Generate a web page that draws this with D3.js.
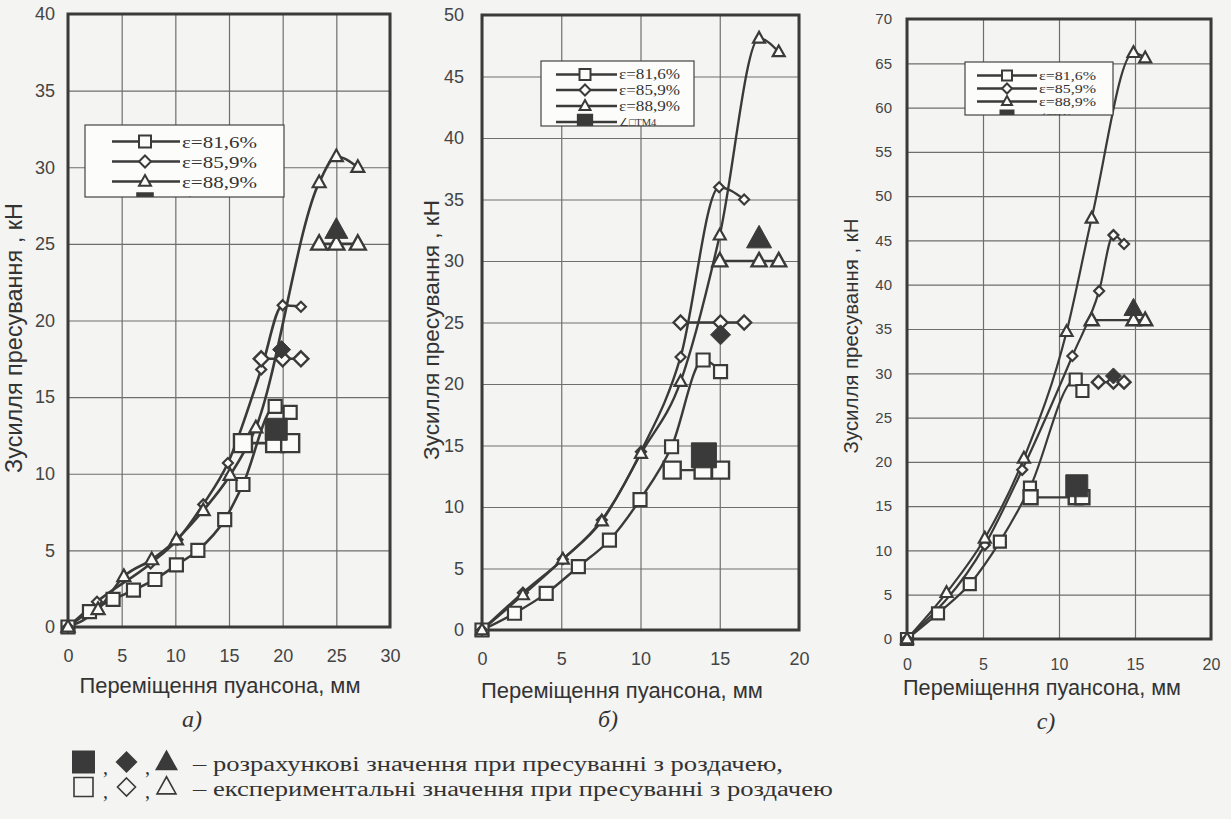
<!DOCTYPE html>
<html>
<head>
<meta charset="utf-8">
<script src="https://cdn.jsdelivr.net/npm/d3@7/dist/d3.min.js"></script>
<style>
  body { margin: 0; background: #f4f4f2; }
  svg { display: block; }
</style>
</head>
<body>
<svg id="chart" width="1231" height="819"></svg>
<script>
// ---- tick labels ----
const aXTicks = [0, 5, 10, 15, 20, 25, 30];
const aYTicks = [0, 5, 10, 15, 20, 25, 30, 35, 40];
const bXTicks = [0, 5, 10, 15, 20];
const bYTicks = [0, 5, 10, 15, 20, 25, 30, 35, 40, 45, 50];
const cXTicks = [0, 5, 10, 15, 20];
const cYTicks = [0, 5, 10, 15, 20, 25, 30, 35, 40, 45, 50, 55, 60, 65, 70];

const seriesNames = ["ε=81,6%", "ε=85,9%", "ε=88,9%", "∠□TM4"];

// ---- panel a) ----
const aSq = [[0,0],[2.0,1.0],[4.2,1.8],[6.1,2.4],[8.1,3.1],[10.1,4.05],[12.1,5.0],[14.6,7.0],[16.3,9.3],[19.3,14.4],[20.7,14.0]];
const aSqExpX = [16.3, 19.3, 20.7], aSqExpY = 12;
const aSqCalc = [19.4, 12.9];
const aDi = [[0,0],[2.7,1.65],[7.7,4.15],[10.2,5.7],[12.6,8.0],[14.9,10.7],[18.0,16.8],[20.0,21.0],[21.7,20.9]];
const aDiExpX = [18.0, 20.0, 21.7], aDiExpY = 17.5;
const aDiCalc = [19.9, 18.1];
const aTr = [[0,0],[2.8,1.15],[5.2,3.3],[7.8,4.4],[10.1,5.7],[12.6,7.6],[15.1,9.9],[17.5,13.0],[23.4,29.0],[25.0,30.7],[27.0,30.0]];
const aTrExpX = [23.4, 25.0, 27.0], aTrExpY = 25;
const aTrCalc = [25.0, 25.9];

// ---- panel б) ----
const bSq = [[0,0],[2.05,1.36],[4.05,2.98],[6.08,5.15],[8.04,7.3],[9.97,10.6],[11.96,14.9],[13.95,21.95],[15.05,21.0]];
const bSqExpX = [12.0, 13.95, 15.05], bSqExpY = 13;
const bSqCalc = [14.0, 14.2];
const bDi = [[0,0],[2.58,3.03],[5.1,5.75],[7.56,8.94],[10.03,14.5],[12.53,22.2],[14.96,36.0],[16.54,35.0]];
const bDiExpX = [12.53, 15.05, 16.54], bDiExpY = 25;
const bDiCalc = [15.05, 24.0];
const bTr = [[0,0],[2.58,2.85],[5.1,5.75],[7.56,8.85],[10.03,14.35],[12.53,20.2],[15.0,32.1],[17.48,48.1],[18.72,47.0]];
const bTrExpX = [15.0, 17.48, 18.72], bTrExpY = 30;
const bTrCalc = [17.48, 31.8];

// ---- panel с) ----
const cSq = [[0,0],[2.04,2.9],[4.13,6.2],[6.11,11.0],[8.09,17.1],[11.1,29.3],[11.54,28.0]];
const cSqExpX = [8.13, 11.1, 11.54], cSqExpY = 16;
const cSqCalc = [11.17, 17.3];
const cDi = [[0,0],[5.12,10.6],[7.58,19.1],[10.88,31.95],[12.64,39.3],[13.58,45.6],[14.28,44.6]];
const cDiExpX = [12.59, 13.58, 14.28], cDiExpY = 29;
const cDiCalc = [13.58, 29.7];
const cTr = [[0,0],[2.6,5.23],[5.12,11.37],[7.69,20.4],[10.5,34.7],[12.15,47.5],[14.9,66.2],[15.67,65.6]];
const cTrExpX = [12.15, 14.9, 15.67], cTrExpY = 36;
const cTrCalc = [14.9, 37.3];

const INK = "#3a3a3a";
const BG = "#f4f4f2";
const SANS = "'Liberation Sans', Arial, sans-serif";
const SERIF = "'Liberation Serif', 'Times New Roman', serif";

const svg = d3.select("#chart");
svg.append("rect").attr("width", 1231).attr("height", 819).attr("fill", BG);

// marker shapes (s = full width)
function markerPath(type, s) {
  const h = s / 2;
  if (type === "sq") return `M${-h},${-h}H${h}V${h}H${-h}Z`;
  if (type === "di") return `M0,${-h}L${h},0L0,${h}L${-h},0Z`;
  const th = s * 0.9;
  return `M0,${-th * 0.6}L${h},${th * 0.4}L${-h},${th * 0.4}Z`;
}

// fit a text element to a target length by changing its font size
function fit(sel, w) {
  const fs = parseFloat(sel.attr("font-size"));
  const l = sel.node().getComputedTextLength();
  sel.attr("font-size", (fs * w / l).toFixed(2));
}

function drawPanel(cfg) {
  const x = d3.scaleLinear().domain([0, d3.max(cfg.xTicks)]).range([cfg.left, cfg.right]);
  const y = d3.scaleLinear().domain([0, d3.max(cfg.yTicks)]).range([cfg.bottom, cfg.top]);
  const g = svg.append("g");

  // grid
  g.append("g")
    .attr("transform", `translate(0,${cfg.bottom})`)
    .call(d3.axisBottom(x).tickValues(cfg.xTicks).tickSize(-(cfg.bottom - cfg.top)).tickFormat(""))
    .call(s => { s.select(".domain").remove(); s.selectAll("line").attr("stroke", "#6e6e6e").attr("stroke-width", 1.2); });
  g.append("g")
    .attr("transform", `translate(${cfg.left},0)`)
    .call(d3.axisLeft(y).tickValues(cfg.yTicks).tickSize(-(cfg.right - cfg.left)).tickFormat(""))
    .call(s => { s.select(".domain").remove(); s.selectAll("line").attr("stroke", "#6e6e6e").attr("stroke-width", 1.2); });

  // frame
  g.append("rect")
    .attr("x", cfg.left).attr("y", cfg.top)
    .attr("width", cfg.right - cfg.left).attr("height", cfg.bottom - cfg.top)
    .attr("fill", "none").attr("stroke", INK).attr("stroke-width", 3);

  // tick labels
  g.append("g")
    .attr("transform", `translate(0,${cfg.bottom})`)
    .call(d3.axisBottom(x).tickValues(cfg.xTicks).tickSize(0).tickPadding(cfg.xPad))
    .call(s => {
      s.select(".domain").remove();
      s.selectAll("text").attr("font-family", SANS).attr("font-size", cfg.xFont).attr("fill", "#444");
    });
  g.append("g")
    .attr("transform", `translate(${cfg.left},0)`)
    .call(d3.axisLeft(y).tickValues(cfg.yTicks).tickSize(0).tickPadding(cfg.yPad))
    .call(s => {
      s.select(".domain").remove();
      s.selectAll("text").attr("font-family", SANS).attr("font-size", cfg.yFont).attr("fill", "#444");
    });

  // axis titles
  const xt = g.append("text")
    .attr("x", cfg.xTitle[0]).attr("y", cfg.xTitle[1])
    .attr("text-anchor", "middle").attr("font-family", SANS).attr("font-size", 20).attr("fill", "#333")
    .text("Переміщення пуансона, мм");
  fit(xt, cfg.xTitle[2]);
  const yt = g.append("text")
    .attr("transform", `translate(${cfg.yTitle[0]},${cfg.yTitle[1]}) rotate(-90)`)
    .attr("text-anchor", "middle").attr("dominant-baseline", "central")
    .attr("font-family", SANS).attr("font-size", 18).attr("fill", "#333")
    .text("Зусилля пресування , кН");
  fit(yt, cfg.yTitle[2]);

  // caption
  g.append("text")
    .attr("x", cfg.caption[0]).attr("y", cfg.caption[1])
    .attr("text-anchor", "middle").attr("font-family", SERIF).attr("font-style", "italic")
    .attr("font-size", 24).attr("fill", "#333")
    .text(cfg.caption[2]);

  const curve = d3.line().x(d => x(d[0])).y(d => y(d[1])).curve(d3.curveMonotoneX);
  const straight = d3.line().x(d => x(d[0])).y(d => y(d[1]));
  const types = ["sq", "di", "tr"];

  // lines
  cfg.series.forEach(s => {
    g.append("path").attr("d", curve(s.main))
      .attr("fill", "none").attr("stroke", INK).attr("stroke-width", cfg.lw);
    g.append("path").attr("d", straight(s.expX.map(v => [v, s.expY])))
      .attr("fill", "none").attr("stroke", INK).attr("stroke-width", cfg.lw);
  });
  // open markers
  cfg.series.forEach((s, i) => {
    g.selectAll(null).data(s.main).enter().append("path")
      .attr("d", markerPath(types[i], cfg.mSize[i]))
      .attr("transform", d => `translate(${x(d[0])},${y(d[1])})`)
      .attr("fill", "#fbfbfa").attr("stroke", INK).attr("stroke-width", 2.2);
    g.selectAll(null).data(s.expX).enter().append("path")
      .attr("d", markerPath(types[i], cfg.eSize[i]))
      .attr("transform", d => `translate(${x(d)},${y(s.expY)})`)
      .attr("fill", "#fbfbfa").attr("stroke", INK).attr("stroke-width", 2.4);
  });
  // calculated (filled) markers
  cfg.series.forEach((s, i) => {
    g.append("path")
      .attr("d", markerPath(types[i], cfg.cSize[i]))
      .attr("transform", `translate(${x(s.calc[0])},${y(s.calc[1])})`)
      .attr("fill", INK).attr("stroke", INK).attr("stroke-width", 1);
  });

  // legend box
  const L = cfg.legend;
  const clipId = "clip-" + cfg.caption[2].charCodeAt(0);
  svg.append("clipPath").attr("id", clipId).append("rect")
    .attr("x", L.x0).attr("y", L.y0).attr("width", L.x1 - L.x0).attr("height", L.y1 - L.y0);
  g.append("rect")
    .attr("x", L.x0).attr("y", L.y0).attr("width", L.x1 - L.x0).attr("height", L.y1 - L.y0)
    .attr("fill", "#fcfcfb");
  const lg = g.append("g").attr("clip-path", `url(#${clipId})`);
  seriesNames.forEach((name, i) => {
    const ry = L.rows[i];
    lg.append("line").attr("x1", L.lx0).attr("x2", L.lx1).attr("y1", ry).attr("y2", ry)
      .attr("stroke", INK).attr("stroke-width", 2.6);
    const mt = i < 3 ? types[i] : "sq";
    lg.append("path").attr("d", markerPath(mt, i < 3 ? L.ms : L.ms * 1.3))
      .attr("transform", `translate(${L.mx},${ry})`)
      .attr("fill", i < 3 ? "#fbfbfa" : INK).attr("stroke", INK).attr("stroke-width", 2);
    const t = lg.append("text").attr("x", L.tx).attr("y", ry).attr("dy", "0.35em")
      .attr("font-family", SERIF).attr("font-size", i < 3 ? L.fs : L.fs * 0.75)
      .attr("fill", "#333").text(name);
    if (i < 3) t.attr("textLength", L.tw).attr("lengthAdjust", "spacingAndGlyphs");
  });
  g.append("rect")
    .attr("x", L.x0).attr("y", L.y0).attr("width", L.x1 - L.x0).attr("height", L.y1 - L.y0)
    .attr("fill", "none").attr("stroke", "#444").attr("stroke-width", 1.2);
}

drawPanel({
  left: 68, right: 390, top: 14, bottom: 627,
  xTicks: aXTicks, yTicks: aYTicks, xPad: 22, yPad: 13, xFont: 18, yFont: 18,
  xTitle: [220, 693, 281], yTitle: [14, 338, 270], caption: [192, 727, "а)"],
  lw: 2.6, mSize: [13, 10, 13], eSize: [18, 15, 16], cSize: [22, 18, 23],
  series: [
    { main: aSq, expX: aSqExpX, expY: aSqExpY, calc: aSqCalc },
    { main: aDi, expX: aDiExpX, expY: aDiExpY, calc: aDiCalc },
    { main: aTr, expX: aTrExpX, expY: aTrExpY, calc: aTrCalc }
  ],
  legend: { x0: 85, y0: 125, x1: 284, y1: 197, lx0: 112, lx1: 180, mx: 145, tx: 182,
            rows: [141.5, 161.5, 181.5, 201], ms: 12, fs: 17.5, tw: 75 }
});

drawPanel({
  left: 482, right: 799, top: 15, bottom: 630,
  xTicks: bXTicks, yTicks: bYTicks, xPad: 22, yPad: 18, xFont: 18, yFont: 18,
  xTitle: [622, 698, 282], yTitle: [431, 330, 260], caption: [608, 727, "б)"],
  lw: 2.4, mSize: [13, 10, 12], eSize: [17, 14, 15], cSize: [25, 20, 25],
  series: [
    { main: bSq, expX: bSqExpX, expY: bSqExpY, calc: bSqCalc },
    { main: bDi, expX: bDiExpX, expY: bDiExpY, calc: bDiCalc },
    { main: bTr, expX: bTrExpX, expY: bTrExpY, calc: bTrCalc }
  ],
  legend: { x0: 541, y0: 61, x1: 694, y1: 126, lx0: 556, lx1: 617, mx: 585, tx: 619,
            rows: [74.5, 90, 106, 122], ms: 11, fs: 14, tw: 61 }
});

drawPanel({
  left: 907, right: 1211, top: 19, bottom: 639,
  xTicks: cXTicks, yTicks: cYTicks, xPad: 20, yPad: 15, xFont: 16, yFont: 15,
  xTitle: [1042, 695, 278], yTitle: [851, 336, 235], caption: [1046, 729, "с)"],
  lw: 2.2, mSize: [12, 10, 12], eSize: [14, 13, 14], cSize: [22, 16, 19],
  series: [
    { main: cSq, expX: cSqExpX, expY: cSqExpY, calc: cSqCalc },
    { main: cDi, expX: cDiExpX, expY: cDiExpY, calc: cDiCalc },
    { main: cTr, expX: cTrExpX, expY: cTrExpY, calc: cTrCalc }
  ],
  legend: { x0: 965, y0: 62, x1: 1113, y1: 115, lx0: 977, lx1: 1037, mx: 1007, tx: 1039,
            rows: [75.5, 88.5, 101.5, 117], ms: 10, fs: 12, tw: 57 }
});

// ---- bottom key ----
const key = svg.append("g");
const keyTypes = ["sq", "di", "tr"];
const keyX = [83.5, 126.5, 166.5];
const keySize = [23, 22, 23];
keyTypes.forEach((t, i) => {
  key.append("path").attr("d", markerPath(t, keySize[i]))
    .attr("transform", `translate(${keyX[i]},762)`).attr("fill", INK);
  key.append("path").attr("d", markerPath(t, keySize[i] - 4))
    .attr("transform", `translate(${keyX[i]},787)`)
    .attr("fill", "none").attr("stroke", INK).attr("stroke-width", 1.6);
});
[103, 145].forEach(cx => {
  key.append("text").attr("x", cx).attr("y", 774).attr("font-family", SERIF).attr("font-size", 20).attr("fill", "#333").text(",");
  key.append("text").attr("x", cx).attr("y", 798).attr("font-family", SERIF).attr("font-size", 20).attr("fill", "#333").text(",");
});
const KEY_FS = 20.5;
const k1 = key.append("text").attr("x", 193).attr("y", 771)
  .attr("font-family", SERIF).attr("font-size", KEY_FS).attr("fill", "#333")
  .text("– розрахункові значення при пресуванні з роздачею,");
const k2 = key.append("text").attr("x", 193).attr("y", 796)
  .attr("font-family", SERIF).attr("font-size", KEY_FS).attr("fill", "#333")
  .text("– експериментальні значення при пресуванні з роздачею");
// stretch both lines by the same factor so line 1 spans the reference width
const stretch = 590 / k1.node().getComputedTextLength();
[k1, k2].forEach(k => k.attr("textLength", (k.node().getComputedTextLength() * stretch).toFixed(1))
  .attr("lengthAdjust", "spacingAndGlyphs"));
</script>
</body>
</html>
